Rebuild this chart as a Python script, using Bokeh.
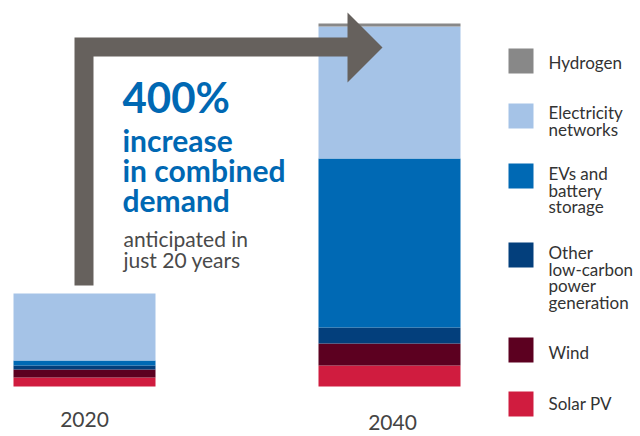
from bokeh.plotting import figure
from bokeh.models import Range1d, ColumnDataSource
from bokeh.core.properties import value
from bokeh.embed import file_html
from bokeh.resources import INLINE

# ---------------- data ----------------
years = ["2020", "2040"]
solar_pv = [9, 21]
wind = [8, 22]
other_low_carbon = [4, 16]
evs_battery = [5, 169]
electricity_networks = [67, 132]
hydrogen = [0, 3]

series_keys = ["solar", "wind", "other", "evs", "elec", "hydro"]
series_labels = ["Solar PV", "Wind", "Other\nlow-carbon\npower\ngeneration",
                 "EVs and\nbattery\nstorage", "Electricity\nnetworks", "Hydrogen"]
series_colors = ["#d01c3f", "#5c0020", "#033f7c", "#0069b4", "#a5c3e7", "#888888"]

headline = ["400%"]
sub_headline = ["increase", "in combined", "demand"]
note_lines = ["anticipated in", "just 20 years"]

# ---------------- layout (pixel-like frame coords) ----------------
W, H = 640, 436
BASE = 386          # image y of bar baseline


def X(px):  # image x -> data x
    return px


def Y(py):  # image y -> data y
    return BASE - py


p = figure(width=W, height=H, output_backend="svg", toolbar_location=None,
           x_range=Range1d(0, W), y_range=Range1d(Y(H), Y(0)),
           x_axis_location=None, y_axis_location=None, min_border=0,
           outline_line_color=None, tools="")
p.grid.visible = False
p.background_fill_color = "white"
p.border_fill_color = "white"

bar_x = [X(84), X(389)]
src = ColumnDataSource(dict(
    x=bar_x,
    solar=solar_pv, wind=wind, other=other_low_carbon,
    evs=evs_battery, elec=electricity_networks, hydro=hydrogen,
))
p.vbar_stack(series_keys, x="x", width=142, source=src,
             color=series_colors, line_color=None)

# arrow
ax = [74, 74, 347, 347, 382, 347, 347, 93, 93]
ay = [285, 37, 37, 12, 47, 82, 56, 56, 285]
p.patch([X(v) for v in ax], [Y(v) for v in ay], color="#66615d", line_color=None)

FONT = value("Lato")

# headline texts
p.text(x=[X(122)], y=[Y(96)], text=headline, text_font=FONT, text_font_size="42px",
       text_font_style="bold", text_color="#0068b3", text_baseline="middle")
p.text(x=[X(122)] * 3, y=[Y(139), Y(169), Y(199)], text=sub_headline, text_font=FONT,
       text_font_size="30px", text_font_style="bold", text_color="#0068b3",
       text_baseline="middle")
p.text(x=[X(123)] * 2, y=[Y(238), Y(259)], text=note_lines, text_font=FONT,
       text_font_size="21px", text_color="#4a4a4a", text_baseline="middle")

# year labels
p.text(x=[X(84), X(392)], y=[Y(419), Y(422)], text=years, text_font=FONT,
       text_font_size="21px", text_color="#444444", text_align="center",
       text_baseline="middle")

# legend (top to bottom = reversed stack order)
sw_tops = [391, 337, 242, 163, 103, 48]
txt_first = [403, 352, 252, 173, 112, 62]
LINE = 16.5
for top, tf, lab, col in zip(sw_tops, txt_first, series_labels, series_colors):
    p.rect(x=[X(520.5)], y=[Y(top + 12.5)], width=25, height=25, color=col, line_color=None)
    lines = lab.split("\n")
    p.text(x=[X(548)] * len(lines), y=[Y(tf + i * LINE) for i in range(len(lines))],
           text=lines, text_font=FONT, text_font_size="17px", text_color="#333333",
           text_baseline="middle")

open("out.html", "w").write(file_html(p, INLINE))
